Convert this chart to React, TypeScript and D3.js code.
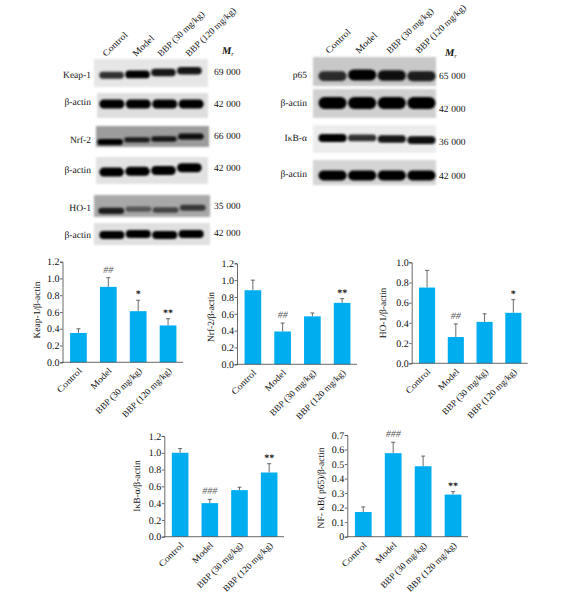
import React, { useEffect, useRef } from 'react';
import * as d3 from 'd3';

const FONT = '"Liberation Serif", "Times New Roman", serif';
const BLUE = '#00aeef';

const groups = ['Control', 'Model', 'BBP (30 mg/kg)', 'BBP (120 mg/kg)'];
// rendered length of the slanted group labels
const groupLengths = [31, 26, 61, 66];

// bar heights and upper error caps
const keapMean = [0.35, 0.9, 0.61, 0.44];
const keapTop = [0.4, 1.01, 0.74, 0.52];
const keapSig = ['', '##', '*', '**'];
const nrfMean = [0.88, 0.39, 0.57, 0.73];
const nrfTop = [1.0, 0.49, 0.61, 0.78];
const nrfSig = ['', '##', '', '**'];
const hoMean = [0.75, 0.26, 0.41, 0.5];
const hoTop = [0.92, 0.39, 0.49, 0.63];
const hoSig = ['', '##', '', '*'];
const ikbMean = [1.0, 0.4, 0.555, 0.765];
const ikbTop = [1.05, 0.445, 0.59, 0.87];
const ikbSig = ['', '###', '', '**'];
const nfMean = [0.17, 0.575, 0.485, 0.29];
const nfTop = [0.205, 0.65, 0.555, 0.31];
const nfSig = ['', '###', '', '**'];

const ticks12 = [0, 0.2, 0.4, 0.6, 0.8, 1.0, 1.2];
const ticks10 = [0, 0.2, 0.4, 0.6, 0.8, 1.0];
const ticks07 = [0, 0.1, 0.2, 0.3, 0.4, 0.5, 0.6, 0.7];

// blot band darkness per lane (0-1) and how far down the strip each band ran (0-1)
const keapBand = [0.68, 0.98, 0.85, 0.85];
const keapRun = [0.58, 0.55, 0.48, 0.42];
const actin1Band = [1, 0.98, 0.98, 1];
const actin1Run = [0.44, 0.44, 0.44, 0.44];
const nrfBand = [0.98, 0.8, 0.85, 0.92];
const nrfRun = [0.76, 0.66, 0.62, 0.5];
const actin2Band = [1, 1, 1, 1];
const actin2Run = [0.56, 0.53, 0.5, 0.4];
const hoBand = [0.8, 0.42, 0.55, 0.62];
const hoRun = [0.72, 0.64, 0.68, 0.58];
const actin3Band = [1, 0.98, 1, 1];
const actin3Run = [0.55, 0.5, 0.55, 0.5];
const p65Band = [0.72, 1, 0.9, 0.8];
const p65Run = [0.66, 0.62, 0.64, 0.66];
const actin4Band = [1, 1, 1, 1];
const actin4Run = [0.48, 0.48, 0.48, 0.48];
const ikbBand = [1, 0.68, 0.85, 0.95];
const ikbRun = [0.46, 0.46, 0.5, 0.54];
const actin5Band = [1, 1, 0.98, 1];
const actin5Run = [0.62, 0.62, 0.62, 0.62];

type Blot = {
  name: string; mr: string; x0: number; x1: number; y0: number; y1: number;
  lx0: number; lx1: number; bg: string; band: number[]; run: number[];
  labelY: number; mrY: number; thick: number;
};

const leftBlots: Blot[] = [
  { name: 'Keap-1', mr: '69 000', x0: 94, x1: 208, y0: 59, y1: 87, lx0: 98, lx1: 203, bg: '#e6e6e6', band: keapBand, run: keapRun, labelY: 75, mrY: 72, thick: 8 },
  { name: 'β-actin', mr: '42 000', x0: 97, x1: 208, y0: 93, y1: 118, lx0: 98, lx1: 205, bg: '#dedede', band: actin1Band, run: actin1Run, labelY: 102, mrY: 104, thick: 9 },
  { name: 'Nrf-2', mr: '66 000', x0: 96, x1: 209, y0: 126, y1: 147, lx0: 96, lx1: 205, bg: '#9c9c9c', band: nrfBand, run: nrfRun, labelY: 140, mrY: 136, thick: 6 },
  { name: 'β-actin', mr: '42 000', x0: 96, x1: 208, y0: 157, y1: 184, lx0: 98, lx1: 203, bg: '#e2e2e2', band: actin2Band, run: actin2Run, labelY: 170, mrY: 168, thick: 9 },
  { name: 'HO-1', mr: '35 000', x0: 94, x1: 210, y0: 195, y1: 217, lx0: 97, lx1: 207, bg: '#a8a8a8', band: hoBand, run: hoRun, labelY: 208, mrY: 206, thick: 7 },
  { name: 'β-actin', mr: '42 000', x0: 94, x1: 210, y0: 223, y1: 245, lx0: 98, lx1: 205, bg: '#e0e0e0', band: actin3Band, run: actin3Run, labelY: 235, mrY: 233, thick: 8 },
];

const rightBlots: Blot[] = [
  { name: 'p65', mr: '65 000', x0: 313, x1: 436, y0: 57, y1: 86, lx0: 317, lx1: 437, bg: '#c8c8c8', band: p65Band, run: p65Run, labelY: 75, mrY: 76, thick: 11 },
  { name: 'β-actin', mr: '42 000', x0: 313, x1: 436, y0: 89, y1: 118, lx0: 317, lx1: 437, bg: '#d0d0d0', band: actin4Band, run: actin4Run, labelY: 103, mrY: 109, thick: 12 },
  { name: 'IκB-α', mr: '36 000', x0: 313, x1: 436, y0: 125, y1: 153, lx0: 317, lx1: 437, bg: '#ececec', band: ikbBand, run: ikbRun, labelY: 138, mrY: 142, thick: 8 },
  { name: 'β-actin', mr: '42 000', x0: 313, x1: 436, y0: 160, y1: 185, lx0: 317, lx1: 437, bg: '#d4d4d4', band: actin5Band, run: actin5Run, labelY: 174, mrY: 176, thick: 10 },
];

type BarChart = {
  title: string; mean: number[]; top: number[]; sig: string[]; ticks: number[]; fmt: string;
  axisX: number; yTop: number; yBase: number; xEnd: number; titleX: number; titleY: number;
};

const charts: BarChart[] = [
  { title: 'Keap-1/β-actin', mean: keapMean, top: keapTop, sig: keapSig, ticks: ticks12, fmt: '.1f', axisX: 62.5, yTop: 261.7, yBase: 362.3, xEnd: 183, titleX: 37, titleY: 310 },
  { title: 'Nrf-2/β-actin', mean: nrfMean, top: nrfTop, sig: nrfSig, ticks: ticks12, fmt: '.1f', axisX: 237, yTop: 263.3, yBase: 364.3, xEnd: 357, titleX: 211, titleY: 317 },
  { title: 'HO-1/β-actin', mean: hoMean, top: hoTop, sig: hoSig, ticks: ticks10, fmt: '.1f', axisX: 411.7, yTop: 262.3, yBase: 363.3, xEnd: 527.7, titleX: 383, titleY: 313 },
  { title: 'IκB-α/β-actin', mean: ikbMean, top: ikbTop, sig: ikbSig, ticks: ticks12, fmt: '.1f', axisX: 164.3, yTop: 436, yBase: 536.7, xEnd: 284, titleX: 137, titleY: 486 },
  { title: 'NF- κB( p65)/β-actin', mean: nfMean, top: nfTop, sig: nfSig, ticks: ticks07, fmt: 'nf', axisX: 347.3, yTop: 435, yBase: 536.7, xEnd: 468, titleX: 321, titleY: 488 },
];

function drawBlots(svg: any, blots: Blot[]) {
  const shade = d3.scaleLinear<string>().domain([0.4, 1]).range(['#5a5a5a', '#000000']);
  blots.forEach(b => {
    const x = d3.scaleBand<number>().domain([0, 1, 2, 3]).range([b.lx0, b.lx1]).padding(0.05);
    const y = d3.scaleLinear().domain([0, 1]).range([b.y0, b.y1]);
    svg.append('rect')
      .attr('x', b.x0).attr('y', b.y0)
      .attr('width', b.x1 - b.x0).attr('height', b.y1 - b.y0)
      .attr('fill', b.bg)
      .attr('filter', 'url(#soft)');
    const g = svg.append('g').attr('filter', 'url(#band)');
    b.band.forEach((v, i) => {
      const h = b.thick * (0.55 + 0.45 * v);
      g.append('rect')
        .attr('x', x(i)!).attr('y', y(b.run[i]) - h / 2)
        .attr('width', x.bandwidth()).attr('height', h)
        .attr('rx', h / 2)
        .attr('fill', shade(v));
    });
  });
}

function drawBlotText(svg: any, blots: Blot[], labelEnd: number, mrX: number) {
  blots.forEach(b => {
    svg.append('text').attr('x', labelEnd).attr('y', b.labelY + 3).attr('text-anchor', 'end').attr('font-size', 9.5).text(b.name);
    svg.append('text').attr('x', mrX).attr('y', b.mrY + 3).attr('font-size', 9.5).attr('letter-spacing', 0.1).text(b.mr);
  });
}

function drawHeaders(svg: any, xs: number[], y: number, mx: number, my: number) {
  groups.forEach((g, i) => {
    svg.append('text')
      .attr('transform', `translate(${xs[i]},${y}) rotate(-44)`)
      .attr('font-size', 9)
      .attr('textLength', groupLengths[i])
      .attr('lengthAdjust', 'spacingAndGlyphs')
      .text(g);
  });
  const m = svg.append('text').attr('x', mx).attr('y', my).attr('font-size', 10.5).attr('font-style', 'italic');
  m.append('tspan').attr('font-weight', 'bold').text('M');
  m.append('tspan').attr('dy', 2).attr('font-size', 6.5).text('r');
}

function drawChart(svg: any, c: BarChart) {
  const y = d3.scaleLinear().domain([0, c.ticks[c.ticks.length - 1]]).range([c.yBase, c.yTop]);
  const x = d3.scaleBand().domain(groups).range([c.axisX + 1, c.xEnd]).paddingInner(0.44).paddingOuter(0.22);
  const g = svg.append('g');

  groups.forEach((name, i) => {
    const cx = x(name)! + x.bandwidth() / 2;
    g.append('line').attr('x1', cx).attr('x2', cx).attr('y1', y(c.mean[i])).attr('y2', y(c.top[i])).attr('stroke', '#444').attr('stroke-width', 0.8);
    g.append('line').attr('x1', cx - 2).attr('x2', cx + 2).attr('y1', y(c.top[i])).attr('y2', y(c.top[i])).attr('stroke', '#444').attr('stroke-width', 0.8);
    g.append('rect')
      .attr('x', x(name)!).attr('y', y(c.mean[i]))
      .attr('width', x.bandwidth()).attr('height', c.yBase - y(c.mean[i]))
      .attr('fill', BLUE);
    const s = c.sig[i];
    if (s) {
      const hash = s.startsWith('#');
      g.append('text')
        .attr('x', cx).attr('y', y(c.top[i]) - (hash ? 5 : 3))
        .attr('text-anchor', 'middle')
        .attr('font-size', 10)
        .attr('font-style', hash ? 'italic' : 'normal')
        .attr('font-weight', hash ? 'normal' : 'bold')
        .attr('fill', hash ? '#555' : '#111')
        .text(s);
    }
    g.append('text')
      .attr('transform', `translate(${cx + 4},${c.yBase + 9}) rotate(-45)`)
      .attr('text-anchor', 'end')
      .attr('font-size', 9)
      .attr('textLength', groupLengths[i])
      .attr('lengthAdjust', 'spacingAndGlyphs')
      .text(name);
  });

  const fmt = c.fmt === 'nf' ? (d: any) => (+d === 0 ? '0' : d3.format('.1f')(d)) : d3.format('.1f');
  const yAxis = g.append('g')
    .attr('transform', `translate(${c.axisX},0)`)
    .call(d3.axisLeft(y).tickValues(c.ticks).tickSize(2.5).tickPadding(0.5).tickFormat(fmt as any));
  yAxis.selectAll('text').attr('font-family', FONT).attr('font-size', 10).attr('fill', '#111');
  yAxis.selectAll('line,path').attr('stroke', '#444').attr('stroke-width', 0.8);

  g.append('line').attr('x1', c.axisX).attr('x2', c.xEnd).attr('y1', c.yBase).attr('y2', c.yBase).attr('stroke', '#444').attr('stroke-width', 0.8);

  g.append('text')
    .attr('transform', `translate(${c.titleX + 3},${c.titleY}) rotate(-90)`)
    .attr('text-anchor', 'middle')
    .attr('font-size', 9.5)
    .text(c.title);
}

export default function App() {
  const svgRef = useRef<SVGSVGElement>(null);

  useEffect(() => {
    if (!svgRef.current) return;
    const svg = d3.select(svgRef.current);
    svg.selectAll('*').remove();

    const defs = svg.append('defs');
    defs.append('filter').attr('id', 'soft').attr('x', '-5%').attr('y', '-15%').attr('width', '110%').attr('height', '130%')
      .append('feGaussianBlur').attr('stdDeviation', 1.2);
    defs.append('filter').attr('id', 'band').attr('x', '-10%').attr('y', '-60%').attr('width', '120%').attr('height', '220%')
      .append('feGaussianBlur').attr('stdDeviation', 1.2);

    drawBlots(svg, leftBlots);
    drawBlots(svg, rightBlots);

    const text = svg.append('g').attr('font-family', FONT).attr('fill', '#111').attr('text-rendering', 'geometricPrecision');
    drawBlotText(text, leftBlots, 91, 214);
    drawBlotText(text, rightBlots, 307, 439);
    drawHeaders(text, [106, 136, 161, 189], 57, 222, 54);
    drawHeaders(text, [329, 359, 390, 419], 54, 445, 56);

    charts.forEach(c => drawChart(text, c));
  }, []);

  return <svg ref={svgRef} width={580} height={593} style={{ position: 'absolute', left: 0, top: 0, background: '#fff' }} />;
}
